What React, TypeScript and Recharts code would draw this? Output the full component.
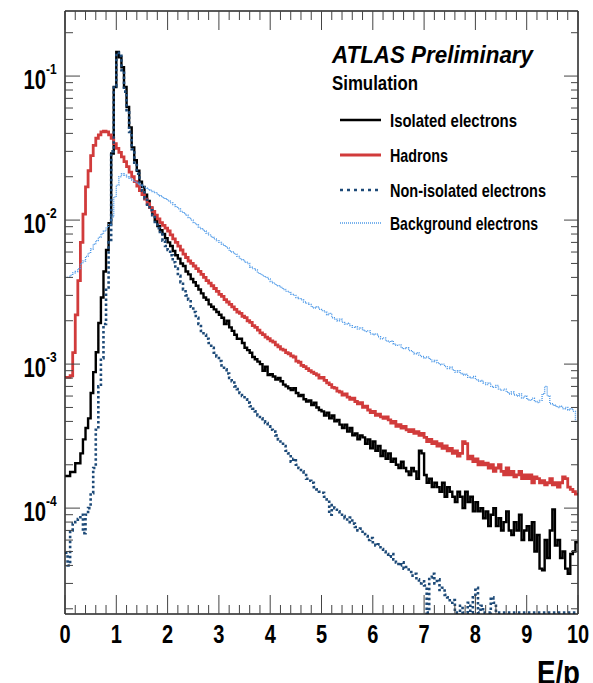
import { LineChart, Line, XAxis, YAxis } from "recharts";

// E/p histograms: 200 bins of width 0.05 over [0, 10], unit-normalised
const BIN_WIDTH = 0.05;
const X_MAX = 10;
const Y_MIN = 1.84e-5;
const Y_MAX = 0.283;

const isolated = [
  1.67e-4, 1.67e-4, 1.78e-4, 1.78e-4, 2.05e-4, 2.05e-4, 2.4e-4, 3.0e-4, 3.6e-4, 4.2e-4,
  6.3e-4, 8.8e-4, 1.21e-3, 1.93e-3, 2.9e-3, 4.4e-3, 6.2e-3, 9.5e-3, 2.9e-2, 8.4e-2,
  0.147, 0.135, 0.115, 0.084, 0.061, 0.044, 0.032, 0.026, 0.022, 0.0185,
  0.017, 0.015, 0.0136, 0.0122, 0.011, 0.01, 0.0091, 0.0085, 0.008, 0.0075,
  0.007, 0.0066, 0.0061, 0.0057, 0.0054, 0.005, 0.0048, 0.0044, 0.0042, 0.0039,
  0.0037, 0.0035, 0.0033, 0.0031, 0.0029, 0.0028, 0.0026, 0.0025, 0.0024, 0.0023,
  0.0022, 0.0021, 0.0019, 0.002, 0.0018, 0.0017, 0.0016, 0.0015, 0.0015, 0.0014,
  0.0013, 0.00125, 0.0012, 0.00112, 0.00108, 0.00104, 0.001, 0.0009, 0.00096, 0.00084,
  0.00085, 0.00082, 0.00078, 0.0008, 0.00076, 0.00072, 0.0007, 0.00068, 0.00066, 0.00068,
  0.00063, 0.0006, 0.00061, 0.00057, 0.00055, 0.00056, 0.00052, 0.00054, 0.0005, 0.00048,
  0.00047, 0.00044, 0.00046, 0.00042, 0.00044, 0.0004, 0.00041, 0.00038, 0.00036, 0.00038,
  0.00034, 0.00036, 0.00032, 0.00033, 0.0003, 0.00032, 0.00031, 0.00028, 0.0003, 0.00026,
  0.00029, 0.00025, 0.00027, 0.00023, 0.00025, 0.00022, 0.00024, 0.00021, 0.00022, 0.0002,
  0.00019, 0.00021, 0.00019, 0.00018, 0.00017, 0.00019, 0.00018, 0.00016, 0.00025, 0.00024,
  0.00017, 0.00015, 0.00016, 0.00014, 0.00015, 0.00014, 0.00013, 0.00015, 0.00012, 0.00014,
  0.00013, 0.00012, 0.00011, 0.00013, 0.00012, 0.0001, 0.00013, 0.00011, 0.00012, 9.5e-5,
  1.1e-4, 9.5e-5, 1.0e-4, 8.5e-5, 9.5e-5, 7.5e-5, 9.0e-5, 1.0e-4, 7.5e-5, 8.5e-5,
  7.0e-5, 8.0e-5, 9.5e-5, 7.0e-5, 6.5e-5, 8.0e-5, 7.0e-5, 9.0e-5, 6.0e-5, 7.0e-5,
  7.5e-5, 6.0e-5, 8.0e-5, 5.0e-5, 6.5e-5, 3.8e-5, 3.7e-5, 6.0e-5, 4.5e-5, 7.0e-5,
  9.8e-5, 5.5e-5, 6.0e-5, 4.5e-5, 5.0e-5, 3.8e-5, 3.5e-5, 4.8e-5, 5.0e-5, 5.8e-5,
];

const hadrons = [
  8.1e-4, 8.1e-4, 8.3e-4, 1.2e-3, 2.2e-3, 3.8e-3, 7.0e-3, 1.1e-2, 1.7e-2, 2.2e-2,
  2.8e-2, 3.3e-2, 3.7e-2, 3.9e-2, 4.1e-2, 4.15e-2, 4.1e-2, 3.9e-2, 3.7e-2, 3.4e-2,
  3.15e-2, 2.95e-2, 2.75e-2, 2.55e-2, 2.35e-2, 2.15e-2, 2.0e-2, 1.85e-2, 1.72e-2, 1.6e-2,
  1.5e-2, 1.4e-2, 1.3e-2, 1.22e-2, 1.15e-2, 1.08e-2, 1.02e-2, 9.6e-3, 9.2e-3, 8.8e-3,
  8.4e-3, 7.9e-3, 7.4e-3, 7.0e-3, 6.6e-3, 6.2e-3, 5.8e-3, 5.5e-3, 5.2e-3, 5.0e-3,
  4.8e-3, 4.6e-3, 4.4e-3, 4.2e-3, 4.0e-3, 3.8e-3, 3.65e-3, 3.5e-3, 3.35e-3, 3.2e-3,
  3.05e-3, 2.95e-3, 2.8e-3, 2.7e-3, 2.6e-3, 2.5e-3, 2.4e-3, 2.3e-3, 2.25e-3, 2.15e-3,
  2.1e-3, 2.0e-3, 1.95e-3, 1.85e-3, 1.8e-3, 1.72e-3, 1.65e-3, 1.6e-3, 1.54e-3, 1.5e-3,
  1.45e-3, 1.42e-3, 1.36e-3, 1.32e-3, 1.27e-3, 1.25e-3, 1.2e-3, 1.18e-3, 1.14e-3, 1.12e-3,
  1.05e-3, 1.03e-3, 9.8e-4, 9.6e-4, 9.3e-4, 9.0e-4, 8.8e-4, 8.6e-4, 8.4e-4, 8.0e-4,
  8.1e-4, 7.7e-4, 7.4e-4, 7.2e-4, 6.9e-4, 6.8e-4, 6.5e-4, 6.4e-4, 6.1e-4, 6.2e-4,
  5.9e-4, 5.7e-4, 5.8e-4, 5.5e-4, 5.3e-4, 5.4e-4, 5.0e-4, 5.1e-4, 4.8e-4, 4.6e-4,
  4.7e-4, 4.4e-4, 4.5e-4, 4.3e-4, 4.2e-4, 4.3e-4, 4.1e-4, 3.9e-4, 4.0e-4, 3.7e-4,
  3.8e-4, 3.6e-4, 3.7e-4, 3.5e-4, 3.4e-4, 3.5e-4, 3.3e-4, 3.4e-4, 3.2e-4, 3.3e-4,
  3.1e-4, 2.9e-4, 3.0e-4, 2.8e-4, 2.9e-4, 2.7e-4, 2.8e-4, 2.6e-4, 2.7e-4, 2.5e-4,
  2.6e-4, 2.4e-4, 2.5e-4, 2.3e-4, 2.4e-4, 2.9e-4, 2.8e-4, 2.2e-4, 2.3e-4, 2.1e-4,
  2.2e-4, 2.0e-4, 2.1e-4, 2.0e-4, 2.05e-4, 1.9e-4, 2.0e-4, 1.8e-4, 1.9e-4, 2.0e-4,
  1.8e-4, 1.7e-4, 1.9e-4, 1.7e-4, 1.8e-4, 1.65e-4, 1.7e-4, 1.8e-4, 1.6e-4, 1.7e-4,
  1.6e-4, 1.7e-4, 1.5e-4, 1.65e-4, 1.6e-4, 1.5e-4, 1.55e-4, 1.45e-4, 1.5e-4, 1.6e-4,
  1.45e-4, 1.5e-4, 1.4e-4, 1.5e-4, 1.65e-4, 1.6e-4, 1.4e-4, 1.35e-4, 1.3e-4, 1.25e-4,
];

// empty bins sit on the lower frame edge
const nonIsolated = [
  4.9e-5, 4.0e-5, 7.0e-5, 7.8e-5, 8.0e-5, 8.4e-5, 9.0e-5, 6.7e-5, 9.0e-5, 1.0e-4,
  1.27e-4, 1.9e-4, 3.5e-4, 7.0e-4, 1.1e-3, 1.9e-3, 3.4e-3, 7.0e-3, 3.0e-2, 8.5e-2,
  0.145, 0.138, 0.11, 0.078, 0.056, 0.041, 0.031, 0.025, 0.021, 0.018,
  0.016, 0.0142, 0.0128, 0.0117, 0.0108, 0.0097, 0.0088, 0.008, 0.0072, 0.0066,
  0.0062, 0.0057, 0.0051, 0.0046, 0.0041, 0.0037, 0.0033, 0.003, 0.0028, 0.0025,
  0.0023, 0.0021, 0.0019, 0.0017, 0.0016, 0.0015, 0.0014, 0.0013, 0.0012, 0.00113,
  0.00105, 0.00098, 0.00092, 0.00086, 0.0008, 0.00076, 0.0007, 0.00067, 0.00063, 0.0006,
  0.00057, 0.00054, 0.00051, 0.00049, 0.00047, 0.00044, 0.00042, 0.0004, 0.00039, 0.00037,
  0.00035, 0.00034, 0.00032, 0.0003, 0.00029, 0.00027, 0.00025, 0.00024, 0.00021, 0.00022,
  0.0002, 0.00019, 0.00018, 0.00017, 0.00016, 0.000155, 0.00015, 0.00014, 0.000135, 0.00013,
  1.28e-4, 1.2e-4, 1.15e-4, 9.0e-5, 1.05e-4, 1.0e-4, 9.5e-5, 9.0e-5, 8.8e-5, 8.5e-5,
  8.0e-5, 8.6e-5, 7.8e-5, 7.4e-5, 7.0e-5, 7.2e-5, 6.6e-5, 6.4e-5, 6.0e-5, 6.2e-5,
  5.8e-5, 5.5e-5, 5.6e-5, 5.2e-5, 5.0e-5, 4.8e-5, 4.6e-5, 4.8e-5, 4.4e-5, 4.2e-5,
  4.0e-5, 4.2e-5, 3.8e-5, 3.9e-5, 3.6e-5, 3.4e-5, 3.5e-5, 3.2e-5, 3.0e-5, 3.1e-5,
  2.9e-5, 1.88e-5, 3.3e-5, 3.5e-5, 3.0e-5, 3.2e-5, 2.7e-5, 2.8e-5, 2.5e-5, 2.4e-5,
  2.2e-5, 2.3e-5, 1.88e-5, 1.88e-5, 2.1e-5, 1.88e-5, 1.88e-5, 2.2e-5, 1.88e-5, 2.4e-5,
  2.8e-5, 1.88e-5, 2.1e-5, 1.88e-5, 1.88e-5, 1.88e-5, 2.4e-5, 2.2e-5, 1.88e-5, 1.88e-5,
  1.88e-5, 1.88e-5, 1.88e-5, 1.88e-5, 1.88e-5, 1.88e-5, 1.88e-5, 1.88e-5, 1.88e-5, 1.88e-5,
  1.88e-5, 1.88e-5, 1.88e-5, 1.88e-5, 1.88e-5, 1.88e-5, 1.88e-5, 1.88e-5, 1.88e-5, 1.88e-5,
  1.88e-5, 1.88e-5, 1.88e-5, 1.88e-5, 1.88e-5, 1.88e-5, 1.88e-5, 1.88e-5, 1.88e-5, 1.88e-5,
];

const background = [
  4.0e-3, 4.0e-3, 4.15e-3, 4.3e-3, 4.4e-3, 4.6e-3, 5.0e-3, 5.2e-3, 5.6e-3, 5.9e-3,
  6.3e-3, 6.8e-3, 7.2e-3, 7.6e-3, 8.0e-3, 8.4e-3, 8.9e-3, 9.3e-3, 1.05e-2, 1.45e-2,
  1.75e-2, 2.0e-2, 2.1e-2, 2.05e-2, 2.0e-2, 1.95e-2, 1.9e-2, 1.85e-2, 1.8e-2, 1.74e-2,
  1.7e-2, 1.67e-2, 1.64e-2, 1.61e-2, 1.58e-2, 1.55e-2, 1.5e-2, 1.47e-2, 1.43e-2, 1.4e-2,
  1.36e-2, 1.32e-2, 1.28e-2, 1.24e-2, 1.2e-2, 1.15e-2, 1.12e-2, 1.08e-2, 1.04e-2, 1.0e-2,
  9.6e-3, 9.3e-3, 8.9e-3, 8.7e-3, 8.4e-3, 8.1e-3, 7.9e-3, 7.6e-3, 7.4e-3, 7.2e-3,
  7.0e-3, 6.8e-3, 6.6e-3, 6.4e-3, 6.1e-3, 6.0e-3, 5.8e-3, 5.6e-3, 5.4e-3, 5.3e-3,
  5.1e-3, 5.0e-3, 4.7e-3, 4.6e-3, 4.5e-3, 4.3e-3, 4.2e-3, 4.1e-3, 4.0e-3, 3.9e-3,
  3.75e-3, 3.65e-3, 3.55e-3, 3.5e-3, 3.4e-3, 3.3e-3, 3.2e-3, 3.15e-3, 3.05e-3, 3.0e-3,
  2.9e-3, 2.85e-3, 2.8e-3, 2.7e-3, 2.65e-3, 2.6e-3, 2.5e-3, 2.45e-3, 2.5e-3, 2.4e-3,
  2.35e-3, 2.3e-3, 2.2e-3, 2.25e-3, 2.1e-3, 2.05e-3, 2.0e-3, 2.05e-3, 1.95e-3, 1.9e-3,
  1.92e-3, 1.85e-3, 1.8e-3, 1.82e-3, 1.75e-3, 1.78e-3, 1.72e-3, 1.68e-3, 1.7e-3, 1.62e-3,
  1.6e-3, 1.62e-3, 1.55e-3, 1.5e-3, 1.52e-3, 1.45e-3, 1.42e-3, 1.45e-3, 1.38e-3, 1.35e-3,
  1.36e-3, 1.3e-3, 1.28e-3, 1.3e-3, 1.24e-3, 1.22e-3, 1.18e-3, 1.2e-3, 1.15e-3, 1.13e-3,
  1.1e-3, 1.12e-3, 1.08e-3, 1.04e-3, 1.06e-3, 1.02e-3, 9.9e-4, 1.0e-3, 9.6e-4, 9.3e-4,
  9.5e-4, 9.1e-4, 8.8e-4, 9.0e-4, 8.6e-4, 8.4e-4, 8.5e-4, 8.1e-4, 8.0e-4, 8.2e-4,
  7.8e-4, 7.6e-4, 7.7e-4, 7.4e-4, 7.2e-4, 7.4e-4, 7.0e-4, 6.9e-4, 7.1e-4, 6.7e-4,
  6.6e-4, 6.7e-4, 6.4e-4, 6.2e-4, 6.4e-4, 6.1e-4, 6.0e-4, 6.2e-4, 5.8e-4, 6.0e-4,
  5.7e-4, 5.6e-4, 5.8e-4, 5.5e-4, 5.4e-4, 5.6e-4, 6.2e-4, 7.0e-4, 6.0e-4, 5.3e-4,
  5.2e-4, 5.1e-4, 5.0e-4, 5.1e-4, 4.9e-4, 5.0e-4, 4.8e-4, 4.9e-4, 4.7e-4, 4.0e-4,
];

const xMajor = [0, 1, 2, 3, 4, 5, 6, 7, 8, 9, 10];
const X_MINOR_PER_MAJOR = 5;

const yTicks = [
  2e-5, 3e-5, 4e-5, 5e-5, 6e-5, 7e-5, 8e-5, 9e-5,
  1e-4, 2e-4, 3e-4, 4e-4, 5e-4, 6e-4, 7e-4, 8e-4, 9e-4,
  1e-3, 2e-3, 3e-3, 4e-3, 5e-3, 6e-3, 7e-3, 8e-3, 9e-3,
  1e-2, 2e-2, 3e-2, 4e-2, 5e-2, 6e-2, 7e-2, 8e-2, 9e-2,
  1e-1, 2e-1,
];

const series = [
  { key: "iso", name: "Isolated electrons", color: "#000000", width: 2.4, dash: undefined, legendDash: undefined, labelWidth: 127 },
  { key: "had", name: "Hadrons", color: "#d13b3b", width: 2.8, dash: undefined, legendDash: undefined, labelWidth: 58 },
  { key: "noniso", name: "Non-isolated electrons", color: "#1d4a78", width: 2.6, dash: "2.5 2.5", legendDash: "3 4", labelWidth: 156 },
  { key: "bkg", name: "Background electrons", color: "#4f9ae8", width: 1.4, dash: "1 1", legendDash: "1 1", labelWidth: 148 },
];

const xTicks: number[] = [];
xMajor.forEach((m, i) => {
  xTicks.push(m);
  if (i < xMajor.length - 1) {
    for (let k = 1; k < X_MINOR_PER_MAJOR; k++) xTicks.push(m + k / X_MINOR_PER_MAJOR);
  }
});

// rows at bin low edges, plus a closing row at x = 10 for the step line
const rows = isolated.map((_, i) => ({
  x: Math.round(i * BIN_WIDTH * 100) / 100,
  iso: isolated[i],
  had: hadrons[i],
  noniso: nonIsolated[i],
  bkg: background[i],
}));
rows.push({ ...rows[rows.length - 1], x: X_MAX });

const FRAME = "#222";
const TICK = "#444";
const FONT = "'Liberation Sans', Arial, Helvetica, sans-serif";

const isMajorX = (v: number) => Math.abs(v - Math.round(v)) < 1e-6;
const decade = (v: number) => {
  const e = Math.round(Math.log10(v));
  return Math.abs(Math.log10(v) - e) < 1e-6 ? e : null;
};

function BottomTick({ x, y, payload }: any) {
  const v = payload.value;
  const major = isMajorX(v);
  return (
    <g>
      <line x1={x} x2={x} y1={y} y2={y - (major ? 19 : 9)} stroke={TICK} strokeWidth={1} />
      {major && (
        <text
          transform={`translate(${x},${y + 29}) scale(0.8,1)`}
          textAnchor="middle"
          fontSize={25}
          fontWeight="bold"
          fill="#000"
        >
          {Math.round(v)}
        </text>
      )}
    </g>
  );
}

function TopTick({ x, y, payload }: any) {
  const major = isMajorX(payload.value);
  return <line x1={x} x2={x} y1={y} y2={y + (major ? 19 : 9)} stroke={TICK} strokeWidth={1} />;
}

function LeftTick({ x, y, payload }: any) {
  const e = decade(payload.value);
  return (
    <g>
      <line x1={x} x2={x + (e !== null ? 15 : 8)} y1={y} y2={y} stroke={TICK} strokeWidth={1} />
      {e !== null && (
        <g fontWeight="bold" fill="#000">
          <text transform={`translate(${x - 19},${y + 13}) scale(0.75,1)`} textAnchor="end" fontSize={27}>
            10
          </text>
          <text transform={`translate(${x - 19},${y - 2}) scale(0.8,1)`} fontSize={15}>
            {e}
          </text>
        </g>
      )}
    </g>
  );
}

function RightTick({ x, y, payload }: any) {
  const e = decade(payload.value);
  return <line x1={x} x2={x - (e !== null ? 14 : 7)} y1={y} y2={y} stroke={TICK} strokeWidth={1} />;
}

function LegendBox() {
  const rowsY = [120, 155, 190, 223];
  return (
    <svg
      width={593}
      height={683}
      style={{ position: "absolute", left: 0, top: 0, pointerEvents: "none", fontFamily: FONT }}
    >
      <text x={332} y={63} fontSize={24} fontWeight="bold" fontStyle="italic" textLength={201} lengthAdjust="spacingAndGlyphs">
        ATLAS Preliminary
      </text>
      <text x={332} y={90} fontSize={20} fontWeight="bold" textLength={86} lengthAdjust="spacingAndGlyphs">
        Simulation
      </text>
      {series.map((s, i) => (
        <g key={s.key}>
          <line
            x1={340}
            x2={381}
            y1={rowsY[i]}
            y2={rowsY[i]}
            stroke={s.color}
            strokeWidth={s.key === "bkg" ? 1.6 : s.width}
            strokeDasharray={s.legendDash}
          />
          <text x={390} y={rowsY[i] + 7} fontSize={19} fontWeight="bold" textLength={s.labelWidth} lengthAdjust="spacingAndGlyphs">
            {s.name}
          </text>
        </g>
      ))}
      <text x={537} y={684} fontSize={34} fontWeight="bold" textLength={43} lengthAdjust="spacingAndGlyphs">
        E/p
      </text>
    </svg>
  );
}

export default function App() {
  return (
    <div style={{ position: "absolute", left: 0, top: 0, width: 593, height: 683, background: "#fff", fontFamily: FONT }}>
      <LineChart width={593} height={683} data={rows} margin={{ top: 10, right: 14, bottom: 0, left: 0 }}>
        <XAxis
          dataKey="x"
          type="number"
          domain={[0, X_MAX]}
          allowDataOverflow
          ticks={xTicks}
          interval={0}
          height={69}
          tickSize={0}
          tickMargin={0}
          tickLine={false}
          tick={<BottomTick />}
          axisLine={{ stroke: FRAME, strokeWidth: 1.5 }}
        />
        <XAxis
          xAxisId="top"
          orientation="top"
          dataKey="x"
          type="number"
          domain={[0, X_MAX]}
          allowDataOverflow
          ticks={xTicks}
          interval={0}
          height={1}
          tickSize={0}
          tickMargin={0}
          tickLine={false}
          tick={<TopTick />}
          axisLine={{ stroke: FRAME, strokeWidth: 1.5 }}
        />
        <YAxis
          type="number"
          scale="log"
          domain={[Y_MIN, Y_MAX]}
          allowDataOverflow
          ticks={yTicks}
          interval={0}
          width={65}
          tickSize={0}
          tickMargin={0}
          tickLine={false}
          tick={<LeftTick />}
          axisLine={{ stroke: FRAME, strokeWidth: 1.5 }}
        />
        <YAxis
          yAxisId="right"
          orientation="right"
          type="number"
          scale="log"
          domain={[Y_MIN, Y_MAX]}
          allowDataOverflow
          ticks={yTicks}
          interval={0}
          width={1}
          tickSize={0}
          tickMargin={0}
          tickLine={false}
          tick={<RightTick />}
          axisLine={{ stroke: FRAME, strokeWidth: 1.5 }}
        />
        {/* invisible twin of the isolated series, so the top and right frame axes get drawn */}
        <Line
          xAxisId="top"
          yAxisId="right"
          type="stepAfter"
          dataKey="iso"
          stroke="none"
          dot={false}
          activeDot={false}
          legendType="none"
          isAnimationActive={false}
        />
        {series.map((s) => (
          <Line
            key={s.key}
            type="stepAfter"
            dataKey={s.key}
            name={s.name}
            stroke={s.color}
            strokeWidth={s.width}
            strokeDasharray={s.dash}
            dot={false}
            activeDot={false}
            isAnimationActive={false}
          />
        ))}
      </LineChart>
      <LegendBox />
    </div>
  );
}
